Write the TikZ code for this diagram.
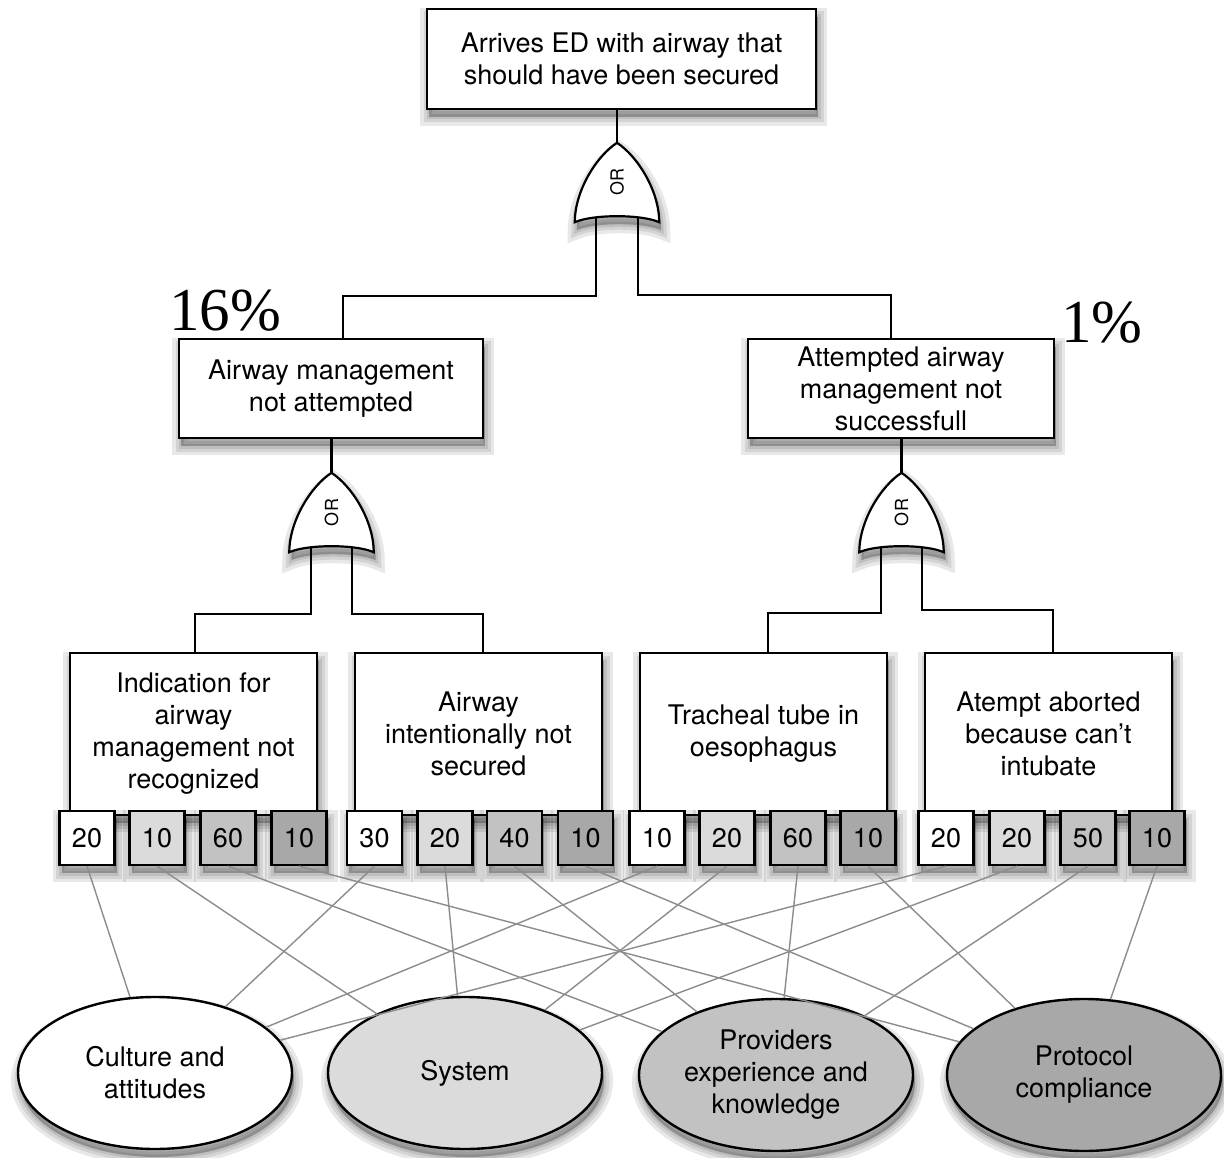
\documentclass[tikz,border=0pt]{standalone}
\usepackage{fontspec}
\setmainfont{TeX Gyre Heros}
\newfontfamily\pctfont{Liberation Serif}
\usetikzlibrary{calc,shapes.geometric}

\definecolor{toneA}{gray}{1.00}
\definecolor{toneB}{gray}{0.86}
\definecolor{toneC}{gray}{0.76}
\definecolor{toneD}{gray}{0.66}
\definecolor{linkgray}{gray}{0.55}

\tikzset{
  x=1pt, y=-1pt,
  halo/.style={preaction={draw=black, line width=#1, draw opacity=0.09,
      fill=black, fill opacity=0.09,
      transform canvas={shift={(2pt,-8pt)}}}},
  soft/.style={halo=18pt, halo=11pt, halo=5pt},
  txt/.style={font=\fontsize{27}{32}\selectfont},
  event/.style={draw=black, line width=2.4pt, fill=white, align=center,
      inner sep=0pt, txt, soft},
  score/.style={draw=black, line width=2.2pt, minimum width=55pt,
      minimum height=54pt, inner sep=0pt, txt, soft},
  factor/.style={ellipse, draw=black, line width=2.4pt, minimum width=274pt,
      minimum height=152pt, align=center, inner sep=0pt, txt, soft},
  wire/.style={line width=2.2pt, draw=black},
  link/.style={line width=1.4pt, draw=linkgray},
  gatebox/.style={rectangle, minimum width=84pt, minimum height=79pt,
      inner sep=0pt},
  gateline/.style={draw=black, line width=2.2pt, fill=white, soft},
  gatetext/.style={rotate=90, font=\fontsize{18}{20}\selectfont, inner sep=0pt},
  pct/.style={font=\pctfont\fontsize{61}{63}\selectfont, inner sep=0pt}
}

% OR gate outline around a named gate node
\newcommand\drawgate[1]{%
  \draw[gateline] (#1.south west)
     .. controls ($(#1.south west)+(0,-32)$) and ($(#1.north)+(-20,13)$) .. (#1.north)
     .. controls ($(#1.north)+(20,13)$) and ($(#1.south east)+(0,-32)$) .. (#1.south east)
     .. controls ($(#1.south east)+(-18,-8)$) and ($(#1.south west)+(18,-8)$) .. (#1.south west)
     -- cycle;
  \node[gatetext] at (#1) {OR};
}

\begin{document}
\begin{tikzpicture}
\fill[white] (0,0) rectangle (1224,1158);
\useasboundingbox (0,0) rectangle (1224,1158);

% gate anchors
\node[gatebox] (g0) at (617,182.5) {};
\node[gatebox] (g1) at (331.5,512.5) {};
\node[gatebox] (g2) at (901.5,512.5) {};

% top event
\node[event, minimum width=389pt, minimum height=100pt] (top) at (621.5,59)
  {Arrives ED with airway that\\should have been secured};

% intermediate events
\node[event, minimum width=304pt, minimum height=99pt] (mL) at (331,388.5)
  {Airway management\\not attempted};
\node[event, minimum width=306pt, minimum height=99pt] (mR) at (901,388.5)
  {Attempted airway\\management not\\successfull};

% probabilities
\node[pct, anchor=base west] (p16) at (169,331) {16\%};
\node[pct, anchor=base west] (p1) at (1061,343) {1\%};

% basic events
\node[event, minimum width=247pt, minimum height=162pt] (b1) at (193.5,734)
  {Indication for\\airway\\management not\\recognized};
\node[event, minimum width=247pt, minimum height=162pt] (b2) at (478.5,734)
  {Airway\\intentionally not\\secured};
\node[event, minimum width=247pt, minimum height=162pt] (b3) at (763.5,734)
  {Tracheal tube in\\oesophagus};
\node[event, minimum width=247pt, minimum height=162pt] (b4) at (1048.5,734)
  {Atempt aborted\\because can't\\intubate};

% wiring between events and gates
\draw[wire] (g0.north) -- (g0.north |- top.south);
\draw[wire] ($(g0.south)+(-21,-6)$) -- ++(0,80) -| ($(mL.north)+(12,0)$);
\draw[wire] ($(g0.south)+(21,-6)$) -- ++(0,79) -| ($(mR.north)+(-10,0)$);
\draw[wire] (g1.north) -- (g1.north |- mL.south);
\draw[wire] ($(g1.south)+(-20.5,-6)$) -- ++(0,68) -| ($(b1.north)+(1.5,0)$);
\draw[wire] ($(g1.south)+(20.5,-6)$) -- ++(0,68) -| ($(b2.north)+(4.5,0)$);
\draw[wire] (g2.north) -- (g2.north |- mR.south);
\draw[wire] ($(g2.south)+(-20.5,-6)$) -- ++(0,67) -| ($(b3.north)+(4.5,0)$);
\draw[wire] ($(g2.south)+(20.5,-6)$) -- ++(0,64) -| ($(b4.north)+(4.5,0)$);

\drawgate{g0}
\drawgate{g1}
\drawgate{g2}

% contributing factors
\node[factor, fill=toneA] (e1) at (155,1073) {Culture and\\attitudes};
\node[factor, fill=toneB] (e2) at (465,1073) {System};
\node[factor, fill=toneC] (e3) at (776,1075) {Providers\\experience and\\knowledge};
\node[factor, fill=toneD] (e4) at (1084,1075) {Protocol\\compliance};

% factor scores under each basic event
\foreach \g/\xa/\xb/\xc/\xd/\va/\vb/\vc/\vd in {
    1/87/157/228/299/20/10/60/10,
    2/374.5/445/514.5/585.5/30/20/40/10,
    3/657/727/798/868/10/20/60/10,
    4/946/1017/1088/1157/20/20/50/10}{
  \node[score, fill=toneA] (s\g1) at (\xa,838) {\va};
  \node[score, fill=toneB] (s\g2) at (\xb,838) {\vb};
  \node[score, fill=toneC] (s\g3) at (\xc,838) {\vc};
  \node[score, fill=toneD] (s\g4) at (\xd,838) {\vd};
}

% links from scores to factors
\foreach \g in {1,...,4}{
  \foreach \k in {1,...,4}{
    \draw[link] (s\g\k.south) -- (e\k);
  }
}
\end{tikzpicture}
\end{document}
